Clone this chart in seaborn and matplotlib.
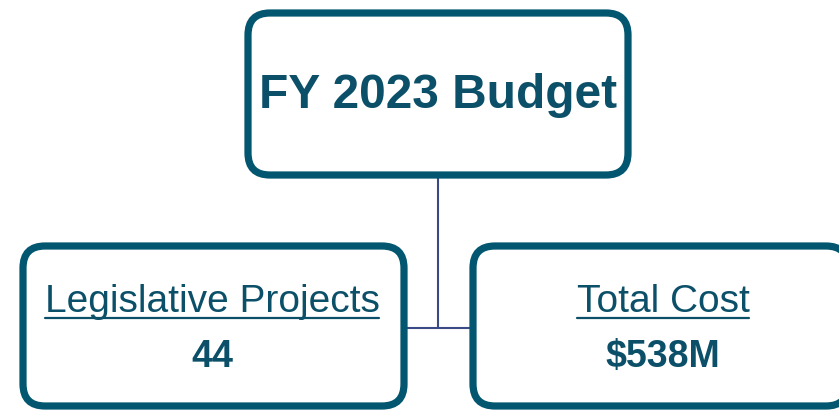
import matplotlib
matplotlib.use("Agg")
import matplotlib.pyplot as plt
import seaborn as sns
from matplotlib.patches import FancyBboxPatch

# Diagram content
title = "FY 2023 Budget"
child_labels = ["Legislative Projects", "Total Cost"]
child_values = ["44", "$538M"]

sns.set_theme(style="white")
plt.rcParams['font.family'] = ['Liberation Sans', 'DejaVu Sans']

box_color = "#03566f"
text_color = "#0b5068"
line_color = "#3b4a86"

fig = plt.figure(figsize=(8.39, 4.11), dpi=100)
ax = fig.add_axes([0, 0, 1, 1])
ax.set_xlim(0, 839)
ax.set_ylim(411, 0)
ax.axis("off")

def box(x0, y0, x1, y1):
    p = FancyBboxPatch((x0, y0), x1 - x0, y1 - y0,
                       boxstyle="round,pad=0,rounding_size=22",
                       facecolor="white", edgecolor=box_color, linewidth=5.2,
                       zorder=2)
    ax.add_patch(p)

# connectors
ax.plot([438, 438], [175, 328], color=line_color, lw=1.5, zorder=1)
ax.plot([404, 473], [328, 328], color=line_color, lw=1.5, zorder=1)

box(248, 13, 628, 175)
box(23, 246, 404, 406)
box(473, 246, 848, 406)

ax.text(438, 95, title, ha="center", va="center", fontsize=34.5,
        fontweight="bold", color=text_color, zorder=3)

centers = [212, 663]
fig.canvas.draw()
renderer = fig.canvas.get_renderer()
for cx, lab, val in zip(centers, child_labels, child_values):
    t = ax.text(cx, 312, lab, ha="center", va="baseline", fontsize=28,
                color=text_color, zorder=3)
    bb = t.get_window_extent(renderer)
    inv = ax.transData.inverted()
    (xa, _), (xb, _) = inv.transform([(bb.x0, 0), (bb.x1, 0)])
    ax.plot([xa, xb], [318, 318], color=text_color, lw=1.6, zorder=3)
    ax.text(cx, 357, val, ha="center", va="center", fontsize=27,
            fontweight="bold", color=text_color, zorder=3)

fig.savefig("out.png", dpi=100)
